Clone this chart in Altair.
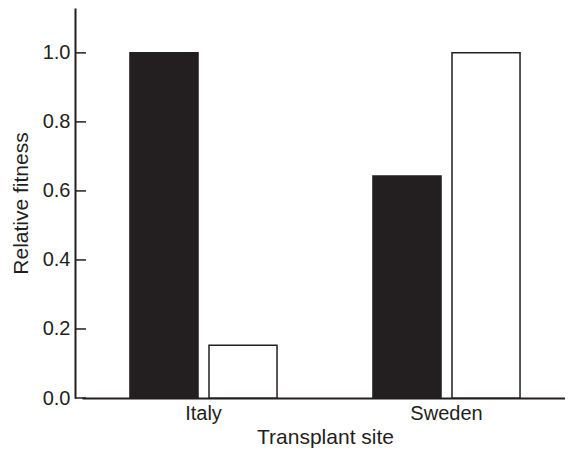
import altair as alt
import pandas as pd

sites = ["Italy", "Italy", "Sweden", "Sweden"]
groups = ["A", "B", "A", "B"]
fitness = [1.0, 0.153, 0.643, 1.0]
tick_values = [0.0, 0.2, 0.4, 0.6, 0.8, 1.0]

df = pd.DataFrame({"site": sites, "group": groups, "fitness": fitness})
ticks_df = pd.DataFrame({"v": tick_values})

FONT = "Liberation Sans"
DARK = "#231f20"

bars = alt.Chart(df).mark_bar(stroke=DARK, strokeWidth=1.5).encode(
    x=alt.X("site:N", title="Transplant site",
            scale=alt.Scale(paddingInner=0, paddingOuter=0, range=[7, 493]),
            axis=alt.Axis(labelAngle=0, ticks=False, labelPadding=5,
                          titlePadding=3, domainColor=DARK, domainWidth=2)),
    xOffset=alt.XOffset("group:N", scale=alt.Scale(paddingInner=0.139, paddingOuter=0.607)),
    y=alt.Y("fitness:Q", title="Relative fitness",
            scale=alt.Scale(domain=[0, 1.13], nice=False, zero=True),
            axis=alt.Axis(values=tick_values, format=".1f", ticks=False, grid=False,
                          labelPadding=5, titlePadding=11, domainColor=DARK, domainWidth=2)),
    fill=alt.Fill("group:N", scale=alt.Scale(domain=["A", "B"], range=[DARK, "#ffffff"]), legend=None),
)

tick_rules = alt.Chart(ticks_df).mark_rule(color=DARK, strokeWidth=1.5).encode(
    x=alt.value(0), x2=alt.value(11), y=alt.Y("v:Q")
)

chart = alt.layer(bars, tick_rules).properties(
    width=490, height=390,
    autosize=alt.AutoSizeParams(type="none"),
    padding={"left": 67, "top": 0, "right": 0, "bottom": 51},
).configure_view(stroke=None).configure_axis(
    labelFont=FONT, titleFont=FONT, labelFontSize=20, titleFontSize=21,
    labelColor=DARK, titleColor=DARK, titleFontWeight="normal"
)

chart.save("out.html", embed_options={"renderer": "svg", "actions": False})
